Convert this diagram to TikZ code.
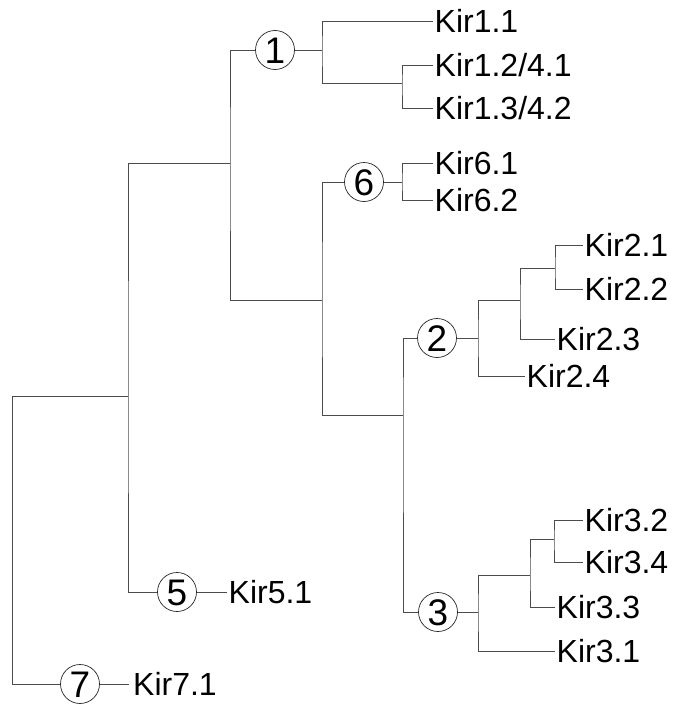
\documentclass[tikz,border=0pt]{standalone}
\usepackage{fontspec}
\setmainfont{Liberation Sans}
\begin{document}
\begin{tikzpicture}[x=1pt,y=-1pt,
  br/.style={draw=black!70, line width=0.8pt},
  leaf/.style={anchor=west, inner xsep=1.5pt, inner ysep=0pt, font=\fontsize{32}{38}\selectfont, text height=23pt, text depth=0pt},
  clade/.style={circle, draw=black!85, line width=0.7pt, fill=white, minimum size=39pt, inner sep=0pt, font=\fontsize{37}{42}\selectfont, text height=26.5pt, text depth=0pt}]
\useasboundingbox (0,0) rectangle (678,704);
% clade circles
\node[clade] (c1) at (275,50) {1};
\node[clade] (c6) at (364,182) {6};
\node[clade] (c2) at (437,338) {2};
\node[clade] (c3) at (438,612) {3};
\node[clade] (c5) at (177,592) {5};
\node[clade] (c7) at (80,684) {7};
% leaves
\node[leaf] (k11) at (433,21) {Kir1.1};
\node[leaf] (k12) at (433,65) {Kir1.2/4.1};
\node[leaf] (k13) at (433,108) {Kir1.3/4.2};
\node[leaf] (k61) at (433,163) {Kir6.1};
\node[leaf] (k62) at (433,200) {Kir6.2};
\node[leaf] (k21) at (583,245) {Kir2.1};
\node[leaf] (k22) at (583,289) {Kir2.2};
\node[leaf] (k23) at (555,339) {Kir2.3};
\node[leaf] (k24) at (525,376) {Kir2.4};
\node[leaf] (k32) at (583,520) {Kir3.2};
\node[leaf] (k34) at (583,562) {Kir3.4};
\node[leaf] (k33) at (555,607) {Kir3.3};
\node[leaf] (k31) at (555,651) {Kir3.1};
\node[leaf] (k51) at (227,592) {Kir5.1};
\node[leaf, inner xsep=4pt] (k71) at (129,684) {Kir7.1};
% internal branch points
\coordinate (rt) at (12,396);
\coordinate (nA) at (128,396);
\coordinate (nB) at (230,163);
\coordinate (nC) at (322,300);
\coordinate (nD) at (403,415);
\coordinate (n1) at (322,50);
\coordinate (n12) at (402,83);
\coordinate (n6) at (402,182);
\coordinate (n2) at (478,338);
\coordinate (n2a) at (520,300);
\coordinate (n2b) at (555,268);
\coordinate (n3) at (478,612);
\coordinate (n3a) at (530,575);
\coordinate (n3b) at (554,539);
% branches
\draw[br] (nA) -- (rt) |- (c7.west);
\draw[br] (c7.east) -- (k71.west);
\draw[br] (nB) -| (nA) |- (c5.west);
\draw[br] (c5.east) -- (k51.west);
\draw[br] (c1.west) -| (nB) |- (nC);
\draw[br] (c6.west) -| (nC) |- (nD);
\draw[br] (c2.west) -| (nD) |- (c3.west);
\draw[br] (c1.east) -- (n1);
\draw[br] (k11.west) -| (n1) |- (n12);
\draw[br] (k12.west) -| (n12) |- (k13.west);
\draw[br] (c6.east) -- (n6);
\draw[br] (k61.west) -| (n6) |- (k62.west);
\draw[br] (c2.east) -- (n2);
\draw[br] (n2a) -| (n2) |- (k24.west);
\draw[br] (n2b) -| (n2a) |- (k23.west);
\draw[br] (k21.west) -| (n2b) |- (k22.west);
\draw[br] (c3.east) -- (n3);
\draw[br] (n3a) -| (n3) |- (k31.west);
\draw[br] (n3b) -| (n3a) |- (k33.west);
\draw[br] (k32.west) -| (n3b) |- (k34.west);
\end{tikzpicture}
\end{document}
